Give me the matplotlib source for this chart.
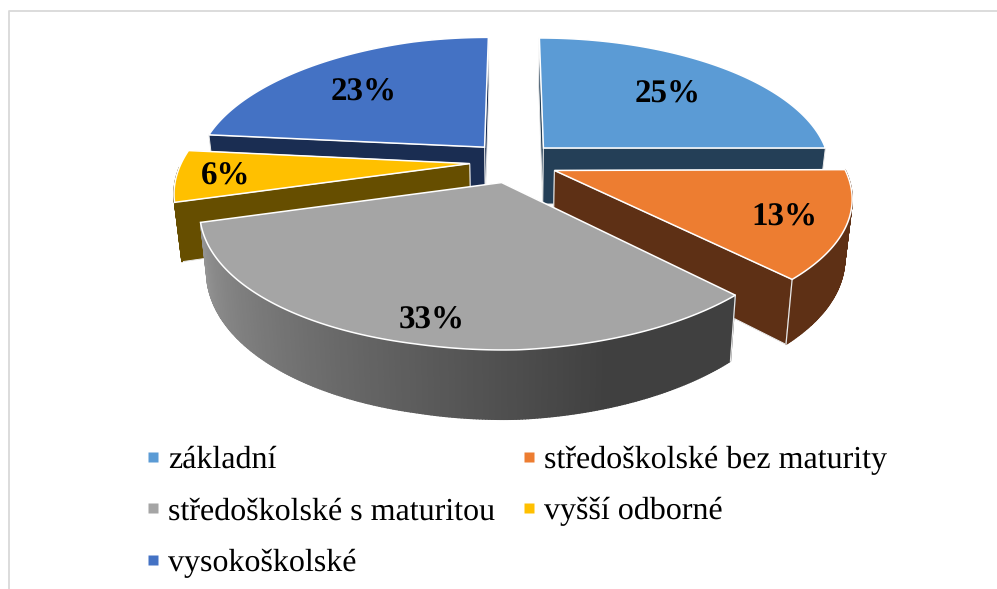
import numpy as np
import matplotlib
matplotlib.use("Agg")
import matplotlib.pyplot as plt
from matplotlib.collections import PolyCollection
from matplotlib.lines import Line2D
from matplotlib.patches import Polygon

plt.rcParams["text.hinting"] = "no_hinting"
plt.rcParams["text.hinting_factor"] = 1

categories = ["základní", "středoškolské bez maturity", "středoškolské s maturitou",
              "vyšší odborné", "vysokoškolské"]
values = [25, 13, 33, 6, 23]
top_colors = ["#5B9BD5", "#ED7D31", "#A5A5A5", "#FFC000", "#4472C4"]
side_colors = ["#243F57", "#5E3015", "#555555", "#664E00", "#1A2D52"]
label_frac = [0.68, 0.80, 0.855, 0.835, 0.68]
label_turn = [0, 0, -2.2, 0, -2]

# perspective of the pie plane, in pixels
CX = 513
VY = -677
EYE = 825
DIST = 1833
Y0 = 30.4
R = 282
EXPLODE = 43
DEPTH = 56


def project(x, y, h=0.0):
    x = np.asarray(x, dtype=float)
    yp = np.asarray(y, dtype=float) - Y0
    s = 1.0 / (1.0 + yp / DIST)
    f = np.clip(-yp, 0, None) / 300
    sx0 = s * x
    left = np.clip(-sx0 - 100, 0, None)
    sx = sx0 * (1 + 0.024 * f) + 4.65 * f - 0.01 * left
    sx = sx * (1 - 0.022 * h / DEPTH)  # verticals lean inwards
    sy = VY + s * (EYE + h) + f * (4 - 0.018 * np.clip(sx0, 0, None)) + 0.016 * left
    return np.column_stack([CX + sx, sy])


def arc(a0, a1, ox, oy, h=0.0):
    a = np.radians(np.linspace(a0, a1, int(abs(a1 - a0)) * 2 + 2))
    return project(ox + R * np.sin(a), oy + R * np.cos(a), h)


fig = plt.figure(figsize=(9.97, 5.89), dpi=100)
ax = fig.add_axes([0, 0, 1, 1])
ax.set_xlim(0, 997)
ax.set_ylim(589, 0)
ax.axis("off")

ax.plot([9, 9, 997], [589, 10.5, 10.5], color="#D9D9D9", lw=1.3)

edges = np.cumsum([0] + values) / sum(values) * 360
mids = (edges[:-1] + edges[1:]) / 2
order = [0, 4, 3, 1, 2]  # back to front

for z, i in enumerate(order):
    a0, a1 = edges[i], edges[i + 1]
    ox = EXPLODE * np.sin(np.radians(mids[i]))
    oy = EXPLODE * np.cos(np.radians(mids[i]))
    apex = project([ox], [oy])
    apex_low = project([ox], [oy], DEPTH)
    rim = arc(a0, a1, ox, oy)
    rim_low = arc(a0, a1, ox, oy, DEPTH)

    # radial walls, the farther one first
    pairs = [(rim[0], rim_low[0]), (rim[-1], rim_low[-1])]
    pairs.sort(key=lambda pq: pq[0][1])
    for p, q in pairs:
        wall = np.vstack([apex, [p], [q], apex_low])
        edge = "none" if i == 2 else "#E8E8E8"
        ax.add_patch(Polygon(wall, closed=True, fc=side_colors[i], ec=edge,
                             lw=0.7, zorder=z * 3 + 2))

    # outer wall, only the part that faces the viewer
    f0, f1 = max(a0, 90), min(a1, 270)
    if f1 > f0:
        front = arc(f0, f1, ox, oy)
        front_low = arc(f0, f1, ox, oy, DEPTH)
        quads = [np.vstack([front[k], front[k + 1], front_low[k + 1], front_low[k]])
                 for k in range(len(front) - 1)]
        if i == 2:
            t = np.linspace(0, 1, len(quads))
            g = np.interp(t, [0, 0.22, 1], [0.25, 0.25, 0.58])
            colors = np.column_stack([g, g, g])
        else:
            colors = [side_colors[i]] * len(quads)
        ax.add_collection(PolyCollection(quads, facecolors=colors, edgecolors=colors,
                                         linewidths=1.0, zorder=z * 3 + 3))
        # pale corner line where the right front edge ends
        if i == 1:
            ax.plot([rim[-1, 0], rim_low[-1, 0]], [rim[-1, 1], rim_low[-1, 1]],
                    color="#E8E8E8", lw=0.9, zorder=z * 3 + 3)
        if i == 2:
            ax.plot([rim[0, 0], rim_low[0, 0]], [rim[0, 1], rim_low[0, 1]],
                    color="#E8E8E8", lw=0.9, zorder=z * 3 + 3)

    # top surface
    top = np.vstack([apex, rim])
    ax.add_patch(Polygon(top, closed=True, fc=top_colors[i], ec="white", lw=1.1,
                         zorder=z * 3 + 4))

for i, v in enumerate(values):
    ox = EXPLODE * np.sin(np.radians(mids[i]))
    oy = EXPLODE * np.cos(np.radians(mids[i]))
    a = np.radians(mids[i] + label_turn[i])
    pos = project([ox + label_frac[i] * R * np.sin(a)], [oy + label_frac[i] * R * np.cos(a)])[0]
    ax.text(pos[0], pos[1] + 3, f"{v}%", ha="center", va="center", family="Liberation Serif",
            fontweight="bold", fontsize=24, color="black", zorder=30)

# filled column by column, so reorder to read row by row
legend_order = [0, 2, 4, 1, 3]
handles = [Line2D([], [], ls="", marker="s", ms=7.8, mec="none", color=top_colors[i],
                  label=categories[i]) for i in legend_order]
ax.legend(handles=handles, ncol=2, loc="upper left", bbox_to_anchor=(143 / 997, 1 - 445.5 / 589),
          frameon=False, prop={"family": "Liberation Serif", "size": 23},
          labelspacing=0.7, handlelength=0.6, handletextpad=0.18, columnspacing=0.76,
          borderpad=0, borderaxespad=0)

fig.savefig("out.png", dpi=100)
